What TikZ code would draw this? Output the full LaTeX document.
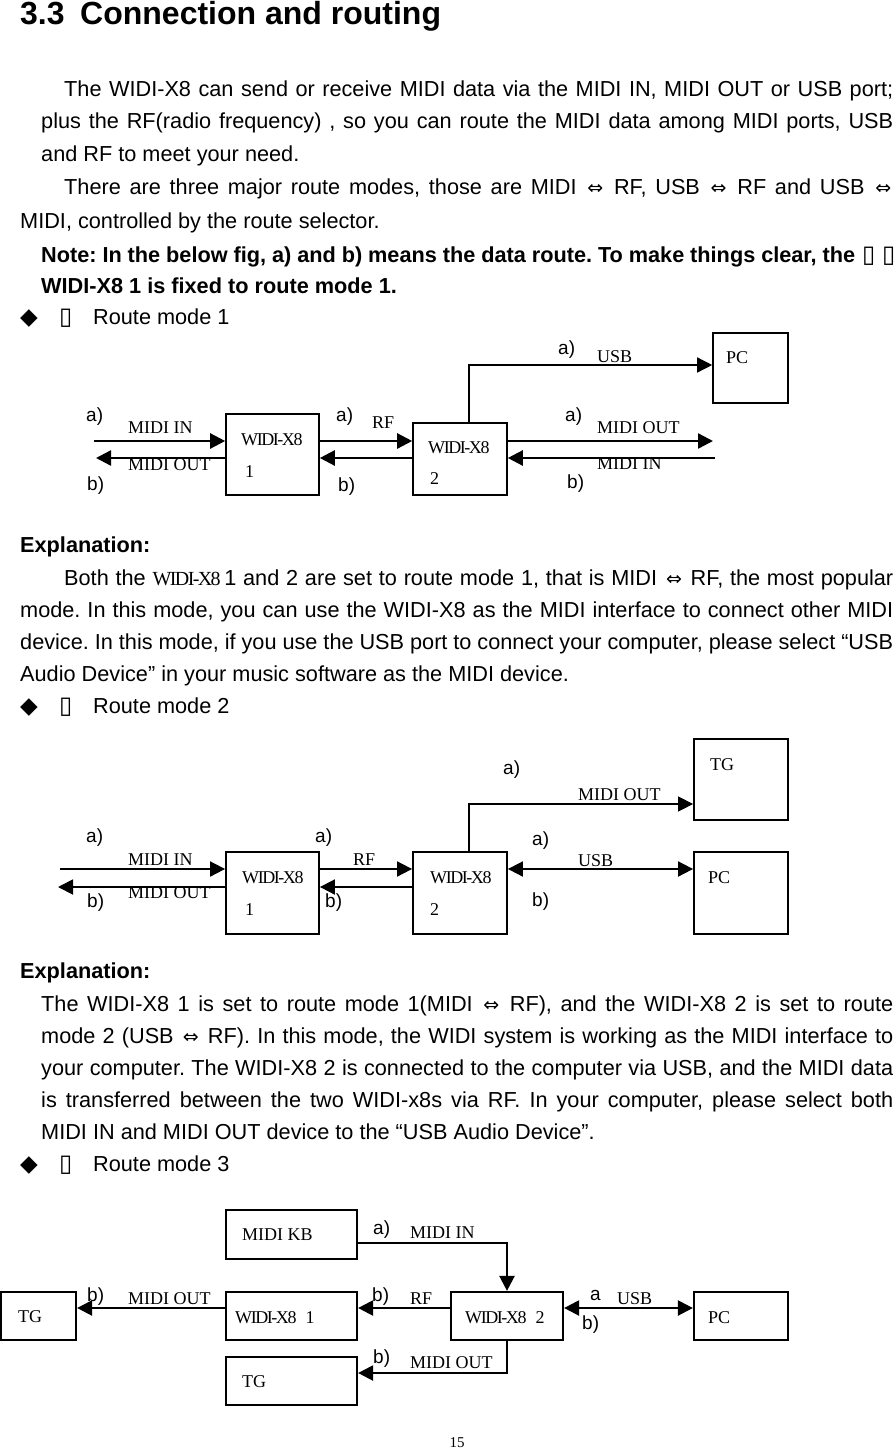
\documentclass[tikz,border=0pt]{standalone}
\usepackage{fontspec}
\setmainfont{Liberation Sans}
\newfontfamily\serif{Liberation Serif}
\newfontfamily\widifont[LetterSpace=-8]{Liberation Serif}
\newfontfamily\dejavu{DejaVu Sans}
\usetikzlibrary{arrows.meta}
\frenchspacing
\newcommand{\dar}{\hspace{2pt}{\dejavu\fontsize{19}{19}\selectfont ⇔}\hspace{2pt}}
\newcommand{\tofu}{{\dejavu\fontsize{24}{24}\selectfont ▯}}
\newcommand{\diam}{{\dejavu\fontsize{23}{23}\selectfont ◆}}
\newcommand{\jl}[2]{\makebox[#1][s]{#2}}
\tikzset{
  body/.style={anchor=base west, inner sep=0pt, font=\fontsize{21.7}{21.7}\selectfont},
  bodyb/.style={anchor=base west, inner sep=0pt, font=\fontsize{21.7}{21.7}\selectfont\bfseries},
  ttl/.style={anchor=base west, inner sep=0pt, font=\fontsize{32}{32}\selectfont\bfseries},
  lbl/.style={anchor=west, inner sep=0pt, font=\serif\fontsize{18}{18}\selectfont},
  wlbl/.style={anchor=west, inner sep=0pt, font=\widifont\fontsize{18}{18}\selectfont},
  ab/.style={anchor=west, inner sep=0pt, font=\fontsize{19}{19}\selectfont},
  bx/.style={draw, inner sep=0pt, line width=#1},
  bx/.default=1.8pt,
  arr/.style={-{Triangle[length=15pt,width=15pt]}, line width=#1},
  arr/.default=2.4pt,
  darr/.style={{Triangle[length=15pt,width=15pt]}-{Triangle[length=15pt,width=15pt]}, line width=#1},
  darr/.default=2pt,
}
\begin{document}
\begin{tikzpicture}[x=1pt, y=-1pt]
\fill[white] (0,0) rectangle (896,1450);
\useasboundingbox (0,0) rectangle (896,1450);

% ---------- title and section 1 text ----------
\node[ttl] (t0a) at (20,25) {3.3};
\node[ttl] (t0b) at (80,25) {Connection and routing};
\node[body] (t1) at (64,97) {\jl{829pt}{The WIDI-X8 can send or receive MIDI data via the MIDI IN, MIDI OUT or USB port;}};
\node[body] (t2) at (41,129) {\jl{852pt}{plus the RF(radio frequency) , so you can route the MIDI data among MIDI ports, USB}};
\node[body] (t3) at (41,162) {and RF to meet your need.};
\node[body] (t4) at (64,195) {\jl{829pt}{There are three major route modes, those are MIDI \dar{} RF, USB \dar{} RF and USB \dar}};
\node[body] (t5) at (20,228) {MIDI, controlled by the route selector.};
\node[bodyb] (t6) at (41,262) {\jl{814pt}{Note: In the below fig, a) and b) means the data route. To make things clear, the}};
\node[body] (t6a) at (862,262) {\tofu};
\node[body] (t6b) at (882,262) {\tofu};
\node[bodyb] (t7) at (41,293) {WIDI-X8 1 is fixed to route mode 1.};
\node[body] (r1d) at (20,324) {\diam};
\node[body] (r1b) at (59,324) {\tofu};
\node[body] (r1) at (93,324) {Route mode 1};

% ---------- diagram 1 ----------
\node[bx=1.6pt, minimum width=93pt, minimum height=81pt] (a1) at (272.5,454.5) {};
\node[bx=1.6pt, minimum width=94pt, minimum height=72pt] (a2) at (460,459) {};
\node[bx=1.6pt, minimum width=75pt, minimum height=70pt] (pc1) at (750.5,368) {};
\node[wlbl] (a1t) at (241,440) {WIDI-X8};
\node[lbl] (a1n) at (245,472) {1};
\node[wlbl] (a2t) at (428,448) {WIDI-X8};
\node[lbl] (a2n) at (430,479) {2};
\node[lbl] (pc1t) at (726,358) {PC};
\coordinate (a1inL) at (94,441);
\coordinate (a1outL) at (96,458);
\coordinate (a1usb) at (469,365);
\coordinate (a1outR) at (713,441);
\coordinate (a1inR) at (715,458);
\draw[arr] (a1inL) -- (a1inL -| a1.west);
\draw[arr] (a1outL -| a1.west) -- (a1outL);
\draw[arr] (a1.east |- a1inL) -- (a2.west |- a1inL);
\draw[arr] (a2.west |- a1outL) -- (a1.east |- a1outL);
\draw[arr=1.4pt] (a2.north -| a1usb) -- (a1usb) -- (pc1.west |- a1usb);
\draw[arr] (a2.east |- a1outR) -- (a1outR);
\draw[arr] (a1inR) -- (a2.east |- a1inR);
\node[lbl] (a1l1) at (128,428) {MIDI IN};
\node[lbl] (a1l2) at (128,465) {MIDI OUT};
\node[lbl] (a1l3) at (372,423) {RF};
\node[lbl] (a1l4) at (597,357) {USB};
\node[lbl] (a1l5) at (597,428) {MIDI OUT};
\node[lbl] (a1l6) at (597,464) {MIDI IN};
\node[ab] (a1a1) at (86,417) {a)};
\node[ab] (a1b1) at (87,486) {b)};
\node[ab] (a1a2) at (336,417) {a)};
\node[ab] (a1b2) at (338,487) {b)};
\node[ab] (a1a3) at (558,350) {a)};
\node[ab] (a1a4) at (565,417) {a)};
\node[ab] (a1b4) at (567,484) {b)};

% ---------- section 2 text ----------
\node[bodyb] (e1) at (20,552) {Explanation:};
\node[body] (s2a) at (64,585) {\jl{829pt}{Both the {\widifont\fontsize{20}{20}\selectfont WIDI-X8}\,1 and 2 are set to route mode 1, that is MIDI \dar{} RF, the most popular}};
\node[body] (s2b) at (20,617) {\jl{873pt}{mode. In this mode, you can use the WIDI-X8 as the MIDI interface to connect other MIDI}};
\node[body] (s2c) at (20,649) {\jl{873pt}{device. In this mode, if you use the USB port to connect your computer, please select “USB}};
\node[body] (s2d) at (20,681) {Audio Device” in your music software as the MIDI device.};
\node[body] (r2d) at (20,713) {\diam};
\node[body] (r2b) at (59,713) {\tofu};
\node[body] (r2) at (93,713) {Route mode 2};

% ---------- diagram 2 ----------
\node[bx, minimum width=93pt, minimum height=82pt] (b1) at (272.5,893) {};
\node[bx, minimum width=94pt, minimum height=82pt] (b2) at (460,893) {};
\node[bx, minimum width=94pt, minimum height=81pt] (tg2) at (741,779.5) {};
\node[bx, minimum width=94pt, minimum height=82pt] (pc2) at (741,893) {};
\node[wlbl] (b1t) at (242,878) {WIDI-X8};
\node[lbl] (b1n) at (245,910) {1};
\node[wlbl] (b2t) at (430,878) {WIDI-X8};
\node[lbl] (b2n) at (430,910) {2};
\node[lbl] (tg2t) at (710,765) {TG};
\node[lbl] (pc2t) at (708,878) {PC};
\coordinate (b1inL) at (60,869);
\coordinate (b1outL) at (58,887);
\coordinate (b2mo) at (469,804);
\draw[arr=1.8pt] (b1inL) -- (b1inL -| b1.west);
\draw[arr=1.8pt] (b1outL -| b1.west) -- (b1outL);
\draw[arr=1.8pt] (b1.east |- b1inL) -- (b2.west |- b1inL);
\draw[arr=1.8pt] (b2.west |- b1outL) -- (b1.east |- b1outL);
\draw[arr=1.4pt] (b2.north -| b2mo) -- (b2mo) -- (tg2.west |- b2mo);
\draw[darr=1.8pt] (b2.east |- b1inL) -- (pc2.west |- b1inL);
\node[lbl] (b1l1) at (128,860) {MIDI IN};
\node[lbl] (b1l2) at (128,893) {MIDI OUT};
\node[lbl] (b1l3) at (353,860) {RF};
\node[lbl] (b1l4) at (578,795) {MIDI OUT};
\node[lbl] (b1l5) at (578,861) {USB};
\node[ab] (b1a1) at (86,838) {a)};
\node[ab] (b1b1) at (87,903) {b)};
\node[ab] (b1a2) at (315,838) {a)};
\node[ab] (b1b2) at (325,903) {b)};
\node[ab] (b1a3) at (503,770) {a)};
\node[ab] (b1a4) at (532,841) {a)};
\node[ab] (b1b4) at (532,902) {b)};

% ---------- section 3 text ----------
\node[bodyb] (e2) at (20,978) {Explanation:};
\node[body] (s3a) at (41,1011) {\jl{852pt}{The WIDI-X8 1 is set to route mode 1(MIDI \dar{} RF), and the WIDI-X8 2 is set to route}};
\node[body] (s3b) at (41,1043) {\jl{852pt}{mode 2 (USB \dar{} RF). In this mode, the WIDI system is working as the MIDI interface to}};
\node[body] (s3c) at (41,1075) {\jl{852pt}{your computer. The WIDI-X8 2 is connected to the computer via USB, and the MIDI data}};
\node[body] (s3d) at (41,1107) {\jl{852pt}{is transferred between the two WIDI-x8s via RF. In your computer, please select both}};
\node[body] (s3e) at (41,1139) {MIDI IN and MIDI OUT device to the “USB Audio Device”.};
\node[body] (r3d) at (20,1171) {\diam};
\node[body] (r3b) at (59,1171) {\tofu};
\node[body] (r3) at (93,1171) {Route mode 3};

% ---------- diagram 3 ----------
\node[bx=2.2pt, minimum width=75pt, minimum height=48pt] (tgL) at (38.5,1316) {};
\node[bx=2.2pt, minimum width=131pt, minimum height=49pt] (kb) at (291.5,1234.5) {};
\node[bx=2.2pt, minimum width=131pt, minimum height=48pt] (c1) at (291.5,1316) {};
\node[bx=2.2pt, minimum width=131pt, minimum height=48pt] (tgB) at (291.5,1381) {};
\node[bx=2.2pt, minimum width=112pt, minimum height=48pt] (c2) at (507,1316) {};
\node[bx=2.2pt, minimum width=94pt, minimum height=48pt] (pc3) at (741,1316) {};
\node[lbl] (kbt) at (242,1235) {MIDI KB};
\node[wlbl] (c1t) at (235,1318) {WIDI-X8\hspace{9pt}{\serif 1}};
\node[lbl] (tgLt) at (18,1317) {TG};
\node[lbl] (tgBt) at (242,1382) {TG};
\node[wlbl] (c2t) at (465,1318) {WIDI-X8\hspace{9pt}{\serif 2}};
\node[lbl] (pc3t) at (708,1318) {PC};
\coordinate (c3mi) at (507,1243);
\coordinate (c3y) at (600,1308);
\coordinate (c3mo) at (507,1373);
\draw[arr=2.3pt] (kb.east |- c3mi) -- (c3mi) -- (c2.north);
\draw[arr=2.3pt] (c1.west |- c3y) -- (tgL.east |- c3y);
\draw[arr=2.3pt] (c2.west |- c3y) -- (c1.east |- c3y);
\draw[darr=2.3pt] (c2.east |- c3y) -- (pc3.west |- c3y);
\draw[arr=2.3pt] (c2.south) -- (c3mo) -- (tgB.east |- c3mo);
\node[lbl] (c3l1) at (128,1299) {MIDI OUT};
\node[lbl] (c3l2) at (410,1233) {MIDI IN};
\node[lbl] (c3l3) at (410,1299) {RF};
\node[lbl] (c3l4) at (410,1363) {MIDI OUT};
\node[lbl] (c3l5) at (617,1299) {USB};
\node[ab] (c3b1) at (87,1297) {b)};
\node[ab] (c3a2) at (373,1230) {a)};
\node[ab] (c3b3) at (372,1297) {b)};
\node[ab] (c3b4) at (373,1359) {b)};
\node[ab] (c3a5) at (590,1295) {a};
\node[ab] (c3b5) at (582,1325) {b)};

% ---------- page number ----------
\node[anchor=base, inner sep=0pt, font=\serif\fontsize{15}{15}\selectfont] (pg) at (457,1447) {15};
\end{tikzpicture}
\end{document}
